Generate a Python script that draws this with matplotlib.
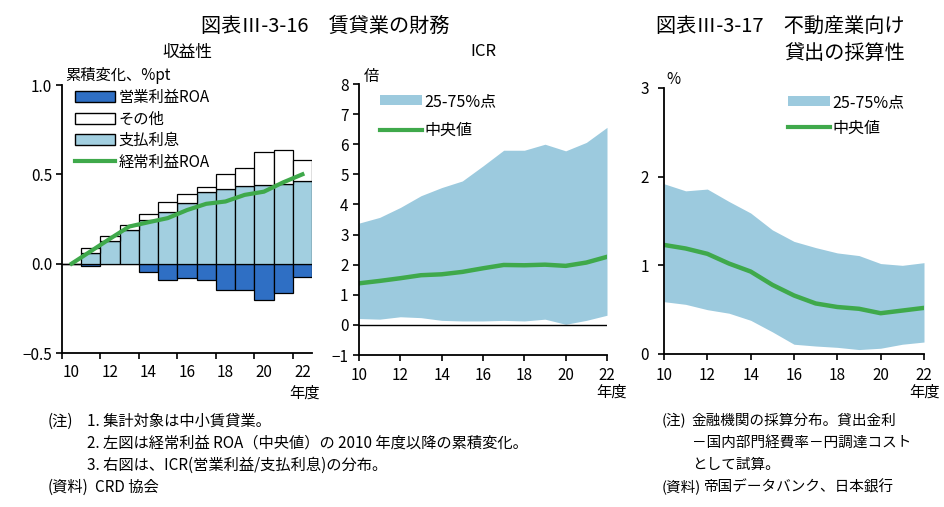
import numpy as np
import matplotlib
matplotlib.use("Agg")
import matplotlib.pyplot as plt
from matplotlib.patches import Patch
from matplotlib.lines import Line2D

plt.rcParams['font.family'] = ['Noto Sans CJK JP', 'DejaVu Sans']

# ---- data ----
years = np.arange(10, 23)
year_labels = ['10', '12', '14', '16', '18', '20', '22']

# left: cumulative change since FY2010, %pt
op_roa = [0, -0.015, 0, 0, -0.045, -0.09, -0.08, -0.093, -0.15, -0.145, -0.205, -0.165, -0.075]
interest = [0, 0.06, 0.125, 0.19, 0.245, 0.29, 0.342, 0.403, 0.42, 0.435, 0.44, 0.446, 0.46]
other = [0, 0.028, 0.03, 0.028, 0.035, 0.055, 0.046, 0.027, 0.08, 0.102, 0.183, 0.19, 0.12]
recurring_roa = [0, 0.07, 0.14, 0.208, 0.232, 0.255, 0.30, 0.335, 0.348, 0.385, 0.403, 0.455, 0.50]

# middle: ICR, times
icr_p75 = [3.38, 3.57, 3.9, 4.29, 4.56, 4.78, 5.28, 5.8, 5.8, 6.0, 5.78, 6.06, 6.56]
icr_p25 = [0.21, 0.19, 0.27, 0.24, 0.15, 0.13, 0.13, 0.15, 0.13, 0.19, 0.02, 0.15, 0.32]
icr_median = [1.38, 1.46, 1.55, 1.65, 1.68, 1.76, 1.88, 1.99, 1.98, 2.0, 1.96, 2.07, 2.26]

# right: lending margin to real estate, %
margin_p75 = [1.92, 1.84, 1.86, 1.72, 1.59, 1.40, 1.27, 1.20, 1.14, 1.11, 1.02, 1.00, 1.03]
margin_p25 = [0.59, 0.56, 0.50, 0.46, 0.38, 0.25, 0.11, 0.09, 0.075, 0.05, 0.065, 0.11, 0.135]
margin_median = [1.23, 1.19, 1.13, 1.02, 0.93, 0.78, 0.66, 0.57, 0.53, 0.51, 0.46, 0.49, 0.52]

C_BLUE = '#2f6fc4'
C_LIGHT = '#a2cfe0'
C_BAND = '#9ccade'
C_GREEN = '#3fa94b'

W, H = 944, 507
fig = plt.figure(figsize=(W / 100, H / 100), dpi=100)


def px_axes(x0, y0, x1, y1):
    return fig.add_axes([x0 / W, 1 - y1 / H, (x1 - x0) / W, (y1 - y0) / H])


def ftext(x, y, s, **kw):
    fig.text(x / W, 1 - y / H, s, **kw)


def style(ax):
    for side in ('top', 'right'):
        ax.spines[side].set_visible(False)
    for side in ('left', 'bottom'):
        ax.spines[side].set_linewidth(1.3)
    ax.tick_params(direction='out', length=4, width=1.2, labelsize=11, colors='black')


# ---- left: profitability ----
ax1 = px_axes(62, 85, 312, 353)
style(ax1)
ax1.bar(years, op_roa, width=1.0, color=C_BLUE, edgecolor='black', linewidth=0.9)
ax1.bar(years, interest, width=1.0, color=C_LIGHT, edgecolor='black', linewidth=0.9)
ax1.bar(years, other, width=1.0, bottom=interest, color='white', edgecolor='black', linewidth=0.9)
ax1.plot(years, recurring_roa, color=C_GREEN, lw=3)
ax1.set_xlim(9.5, 22.5)
ax1.set_ylim(-0.5, 1.0)
ax1.set_yticks([-0.5, 0.0, 0.5, 1.0])
ax1.set_yticklabels(['−0.5', '0.0', '0.5', '1.0'])
ax1.set_xticks(np.arange(9.5, 22, 2))
ax1.set_xticklabels([])
ax1.set_xticks(years[::2], minor=True)
ax1.set_xticklabels(year_labels, minor=True)
ax1.tick_params(axis='x', which='minor', length=0, pad=8, labelsize=11)
ax1.tick_params(axis='y', pad=3)
ax1.legend(handles=[Patch(facecolor=C_BLUE, edgecolor='black'),
                    Patch(facecolor='white', edgecolor='black'),
                    Patch(facecolor=C_LIGHT, edgecolor='black'),
                    Line2D([], [], color=C_GREEN, lw=3)],
           labels=['営業利益ROA', 'その他', '支払利息', '経常利益ROA'],
           loc='upper left', bbox_to_anchor=(75 / W, 1 - 89 / H), bbox_transform=fig.transFigure,
           frameon=False, borderpad=0, borderaxespad=0, handlelength=2.6, handleheight=0.75,
           handletextpad=0.25, labelspacing=0.3, fontsize=11)

# ---- middle: ICR ----
ax2 = px_axes(359, 84, 607, 355)
style(ax2)
ax2.fill_between(years, icr_p25, icr_p75, color=C_BAND, lw=0)
ax2.plot(years, icr_median, color=C_GREEN, lw=3.2)
ax2.axhline(0, color='black', lw=1)
ax2.set_xlim(10, 22)
ax2.set_ylim(-1, 8)
ax2.set_yticks(range(-1, 9))
ax2.set_yticklabels(['−1', '0', '1', '2', '3', '4', '5', '6', '7', '8'])
ax2.set_xticks(years[::2])
ax2.set_xticklabels(year_labels)
ax2.tick_params(axis='x', pad=5)
ax2.legend(handles=[Patch(facecolor=C_BAND, edgecolor='none'), Line2D([], [], color=C_GREEN, lw=3)],
           labels=['25-75%点', '中央値'],
           loc='upper left', bbox_to_anchor=(380 / W, 1 - 93 / H), bbox_transform=fig.transFigure,
           frameon=False, borderpad=0, borderaxespad=0, handlelength=2.6, handleheight=0.6,
           handletextpad=0.2, labelspacing=0.75, fontsize=11.5)

# ---- right: lending margin ----
ax3 = px_axes(664, 88, 924, 354)
style(ax3)
ax3.fill_between(years, margin_p25, margin_p75, color=C_BAND, lw=0)
ax3.plot(years, margin_median, color=C_GREEN, lw=3.2)
ax3.set_xlim(10, 22)
ax3.set_ylim(0, 3)
ax3.set_yticks([0, 1, 2, 3])
ax3.set_xticks(years[::2])
ax3.set_xticklabels(year_labels)
ax3.tick_params(axis='x', pad=5)
ax3.tick_params(axis='y', pad=7)
ax3.legend(handles=[Patch(facecolor=C_BAND, edgecolor='none'), Line2D([], [], color=C_GREEN, lw=3)],
           labels=['25-75%点', '中央値'],
           loc='upper left', bbox_to_anchor=(788 / W, 1 - 94 / H), bbox_transform=fig.transFigure,
           frameon=False, borderpad=0, borderaxespad=0, handlelength=2.6, handleheight=0.6,
           handletextpad=0.2, labelspacing=0.55, fontsize=11.5)

# ---- titles and units ----
ftext(325, 26, '図表Ⅲ-3-16　賃貸業の財務', fontsize=14.5, ha='center', va='center')
ftext(187, 52, '収益性', fontsize=12, ha='center', va='center')
ftext(483, 52, 'ICR', fontsize=12, ha='center', va='center')
ftext(905, 27, '図表Ⅲ-3-17　不動産業向け', fontsize=14.5, ha='right', va='center')
ftext(905, 53, '貸出の採算性', fontsize=14.5, ha='right', va='center')

ftext(65, 75, '累積変化、%pt', fontsize=11, ha='left', va='center')
ftext(364, 77, '倍', fontsize=11, ha='left', va='center')
ftext(666, 80, '%', fontsize=11, ha='left', va='center')

ftext(320, 393, '年度', fontsize=11, ha='right', va='center')
ftext(627, 392, '年度', fontsize=11, ha='right', va='center')
ftext(940, 392, '年度', fontsize=11, ha='right', va='center')

# ---- notes ----
ftext(48, 421, '(注)', fontsize=11, va='center')
ftext(87, 421, '1. 集計対象は中小賃貸業。', fontsize=11, va='center')
ftext(87, 443, '2. 左図は経常利益 ROA（中央値）の 2010 年度以降の累積変化。', fontsize=11, va='center')
ftext(87, 465, '3. 右図は、ICR(営業利益/支払利息)の分布。', fontsize=11, va='center')
ftext(48, 487, '(資料)', fontsize=11, va='center')
ftext(95, 487, 'CRD 協会', fontsize=11, va='center')

ftext(662, 421, '(注)', fontsize=10.5, va='center')
ftext(692, 421, '金融機関の採算分布。貸出金利', fontsize=10.5, va='center')
ftext(692, 443, '－国内部門経費率－円調達コスト', fontsize=10.5, va='center')
ftext(692, 465, 'として試算。', fontsize=10.5, va='center')
ftext(662, 487, '(資料)', fontsize=10.5, va='center')
ftext(704, 487, '帝国データバンク、日本銀行', fontsize=10.5, va='center')

fig.savefig('out.png', dpi=100)
